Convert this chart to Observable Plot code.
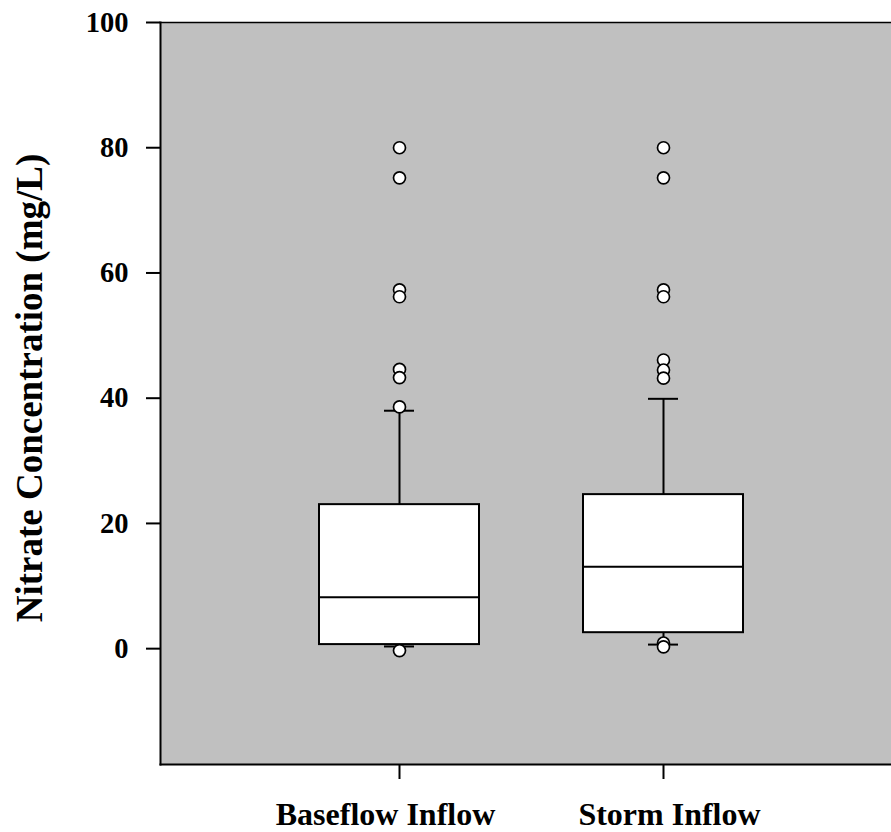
<!DOCTYPE html>
<html>
<head>
<meta charset="utf-8">
<script src="https://cdn.jsdelivr.net/npm/d3@7"></script>
<script src="https://cdn.jsdelivr.net/npm/@observablehq/plot@0.6"></script>
<style>
  html, body { margin: 0; padding: 0; background: #ffffff; }
  #chart svg { display: block; }
</style>
</head>
<body>
<div id="chart"></div>
<script>
// ---- data ----
const categories  = ["Baseflow Inflow", "Storm Inflow"];
const q1          = [0.65, 2.55];
const median      = [8.2, 13.1];
const q3          = [23.0, 24.6];
const whiskerLow  = [0.35, 0.65];
const whiskerHigh = [38.0, 39.9];

const outlierGroup = ["Baseflow Inflow","Baseflow Inflow","Baseflow Inflow","Baseflow Inflow","Baseflow Inflow","Baseflow Inflow","Baseflow Inflow","Baseflow Inflow",
                      "Storm Inflow","Storm Inflow","Storm Inflow","Storm Inflow","Storm Inflow","Storm Inflow","Storm Inflow","Storm Inflow","Storm Inflow"];
const outlierValue = [80.0, 75.2, 57.3, 56.2, 44.6, 43.3, 38.6, -0.3,
                      80.0, 75.2, 57.3, 56.2, 46.1, 44.5, 43.2, 0.9, 0.3];

const yTicks = [0, 20, 40, 60, 80, 100];
const yTitle = "Nitrate Concentration (mg/L)";

// ---- tables built from the arrays ----
const boxes = categories.map((c, i) => ({
  group: c, q1: q1[i], median: median[i], q3: q3[i], lo: whiskerLow[i], hi: whiskerHigh[i]
}));
const outliers = outlierValue.map((v, i) => ({group: outlierGroup[i], value: v}));

const font = "'Liberation Serif', 'Times New Roman', serif";
const labelStyle = {fontSize: 32, fontWeight: "bold", fontFamily: font, color: "black", label: null};

const chart = Plot.plot({
  width: 891,
  height: 832,
  marginLeft: 160,
  marginRight: 0,
  marginTop: 22,
  marginBottom: 68,
  style: {fontFamily: font, background: "#ffffff"},
  x: {
    type: "band",
    domain: categories,
    range: [267, 795],
    paddingInner: 0.394,
    paddingOuter: 0.197,
    align: 0.5
  },
  y: {domain: [-18.5, 100]},
  marks: [
    Plot.frame({fill: "#c0c0c0", stroke: null}),
    // whiskers
    Plot.ruleX(boxes, {x: "group", y1: "lo", y2: "q1", stroke: "black", strokeWidth: 2}),
    Plot.ruleX(boxes, {x: "group", y1: "q3", y2: "hi", stroke: "black", strokeWidth: 2}),
    Plot.tickY(boxes, {x: "group", y: "hi", stroke: "black", strokeWidth: 2, insetLeft: 65, insetRight: 65}),
    Plot.tickY(boxes, {x: "group", y: "lo", stroke: "black", strokeWidth: 2, insetLeft: 65, insetRight: 65}),
    // boxes
    Plot.barY(boxes, {x: "group", y1: "q1", y2: "q3", fill: "white", stroke: "black", strokeWidth: 2}),
    Plot.tickY(boxes, {x: "group", y: "median", stroke: "black", strokeWidth: 2}),
    // outliers
    Plot.dot(outliers, {x: "group", y: "value", r: 6, fill: "white", stroke: "black", strokeWidth: 1.7}),
    // frame edges (right edge lies outside the picture)
    Plot.frame({anchor: "left", stroke: "black", strokeWidth: 2}),
    Plot.frame({anchor: "bottom", stroke: "black", strokeWidth: 2}),
    Plot.frame({anchor: "top", stroke: "black", strokeWidth: 1.5}),
    // axes
    Plot.axisY({
      ticks: yTicks, tickSize: 14, tickPadding: 18, label: null,
      fontSize: 28.5, fontWeight: "bold", fontFamily: font,
      stroke: "black", strokeWidth: 2, color: "black"
    }),
    Plot.axisX({text: null, tickSize: 15, stroke: "black", strokeWidth: 2, label: null}),
    Plot.axisX({ticks: [categories[0]], tickSize: 0, tickPadding: 38, dx: -14, ...labelStyle}),
    Plot.axisX({ticks: [categories[1]], tickSize: 0, tickPadding: 38, dx: 6, ...labelStyle}),
    // y title
    Plot.text([yTitle], {
      frameAnchor: "left", textAnchor: "middle", rotate: -90, dx: -130, dy: -5.5,
      fontSize: 37, fontWeight: "bold", fontFamily: font, fill: "black"
    })
  ]
});
document.getElementById("chart").appendChild(chart);
</script>
</body>
</html>
